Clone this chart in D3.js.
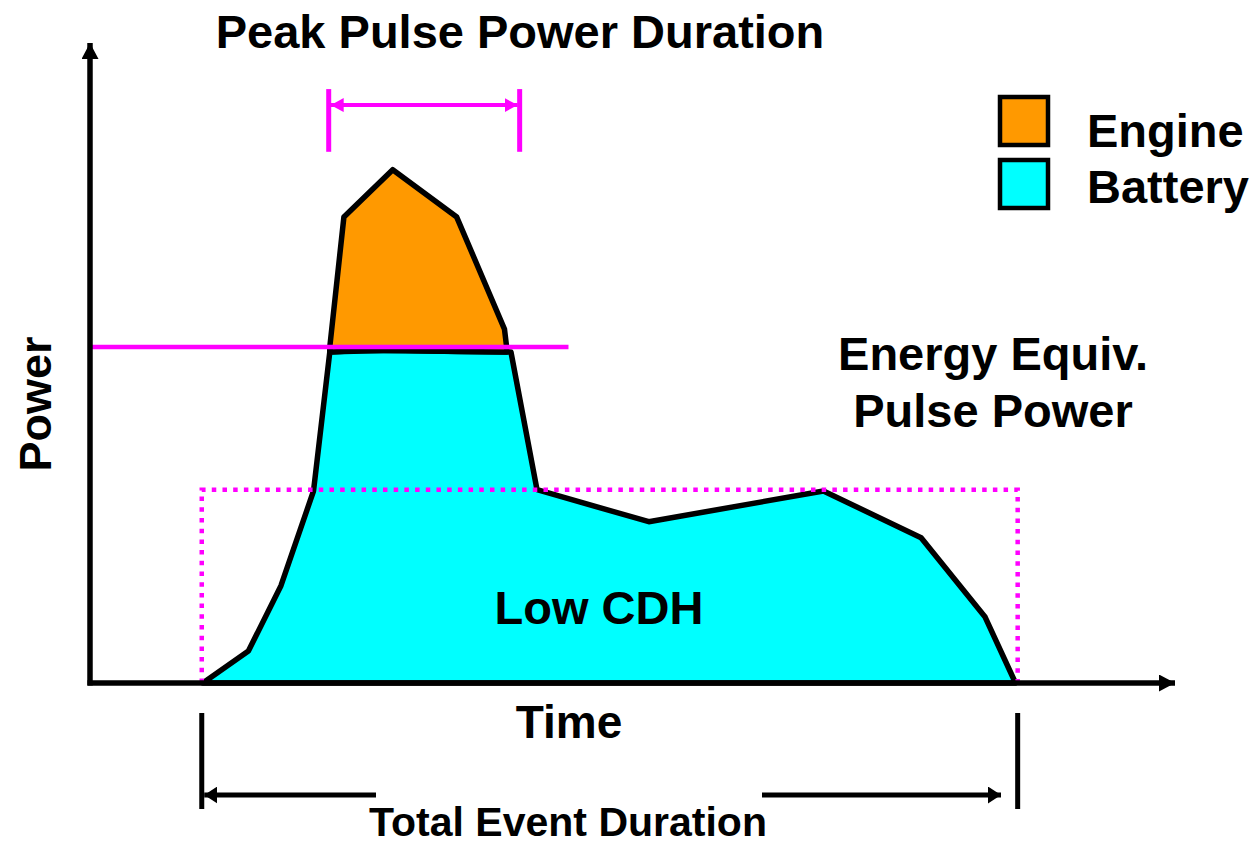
<!DOCTYPE html>
<html>
<head>
<meta charset="utf-8">
<script src="https://cdn.jsdelivr.net/npm/d3@7"></script>
<style>
  body { margin: 0; background: #fff; }
  text { font-family: "Liberation Sans", Arial, sans-serif; font-weight: bold; fill: #000; }
</style>
</head>
<body>
<svg id="chart"></svg>
<script>
// battery (low CDH) profile, time and power in arbitrary units
const batteryTime  = [10.4, 14.6, 17.6, 20.6, 22.1, 25.2, 38.8, 41.2, 51.5, 67.6, 76.6, 82.5, 85.3];
const batteryPower = [0,    5.0,  15.2, 30.0, 51.7, 52.0, 51.7, 30.2, 25.2, 30.0, 22.7, 10.3, 0];

// engine peak sits on top of the battery limit
const engineTime  = [22.1, 23.4, 27.9, 33.8, 38.2, 38.4];
const engineTop   = [52.5, 72.8, 80.2, 72.8, 55.3, 52.5];
const engineBase  = [51.7, 51.8, 52.0, 51.8, 51.7, 51.7];

const batteryLimit = 52.5;          // magenta line
const limitEnd = 44.1;
const pulseStart = 10.3, pulseEnd = 85.5, pulseLevel = 30.2;   // energy equiv. box
const peakStart = 22.0, peakEnd = 39.6;

const legendItems = ["Engine", "Battery"];
const legendColors = ["#ff9900", "#00ffff"];

const width = 1253, height = 847;
const svg = d3.select("#chart").attr("width", width).attr("height", height);

const x = d3.scaleLinear().domain([0, 100]).range([90, 1175]);
const y = d3.scaleLinear().domain([0, 100]).range([683, 43]);

const defs = svg.append("defs");
function marker(id, color, len, half) {
    defs.append("marker")
        .attr("id", id)
        .attr("markerUnits", "userSpaceOnUse")
        .attr("viewBox", `0 ${-half} ${len} ${half * 2}`)
        .attr("refX", len).attr("refY", 0)
        .attr("markerWidth", len).attr("markerHeight", half * 2)
        .attr("orient", "auto-start-reverse")
        .append("path")
        .attr("d", `M0,${-half}L${len},0L0,${half}Z`)
        .attr("fill", color);
}
marker("axisHead", "#000", 16, 8.5);
marker("blackHead", "#000", 13, 8.5);
marker("pinkHead", "#ff00ff", 13, 7);

const battery = batteryTime.map((t, i) => ({ t, p: batteryPower[i] }));
const engine = engineTime.map((t, i) => ({ t, top: engineTop[i], base: engineBase[i] }));

// battery area
svg.append("path")
    .datum(battery)
    .attr("d", d3.area().x(d => x(d.t)).y0(y(0)).y1(d => y(d.p)))
    .attr("fill", "#00ffff")
    .attr("stroke", "#000")
    .attr("stroke-width", 5.5)
    .attr("stroke-linejoin", "round");

// engine area
svg.append("path")
    .datum(engine)
    .attr("d", d3.area().x(d => x(d.t)).y0(d => y(d.base)).y1(d => y(d.top)))
    .attr("fill", "#ff9900")
    .attr("stroke", "#000")
    .attr("stroke-width", 5.5)
    .attr("stroke-linejoin", "round");

// energy-equivalent pulse power box (dotted)
svg.append("path")
    .attr("d", `M${x(pulseStart)},${y(0)}V${y(pulseLevel)}H${x(pulseEnd)}V${y(0)}`)
    .attr("fill", "none")
    .attr("stroke", "#ff00ff")
    .attr("stroke-width", 4.5)
    .attr("stroke-dasharray", "4.5,6.2");

// battery limit line
svg.append("line")
    .attr("x1", x(0)).attr("x2", x(limitEnd))
    .attr("y1", y(batteryLimit)).attr("y2", y(batteryLimit))
    .attr("stroke", "#ff00ff").attr("stroke-width", 4.5);

// axes
svg.append("line")
    .attr("x1", x(0)).attr("y1", y(0) + 2.5).attr("x2", x(0)).attr("y2", y(100))
    .attr("stroke", "#000").attr("stroke-width", 5.5)
    .attr("marker-end", "url(#axisHead)");
svg.append("line")
    .attr("x1", x(0) - 2.5).attr("y1", y(0)).attr("x2", x(100)).attr("y2", y(0))
    .attr("stroke", "#000").attr("stroke-width", 5.5)
    .attr("marker-end", "url(#axisHead)");

// peak pulse duration bracket
[peakStart, peakEnd].forEach(t => {
    svg.append("line")
        .attr("x1", x(t)).attr("x2", x(t))
        .attr("y1", y(92.8)).attr("y2", y(83.0))
        .attr("stroke", "#ff00ff").attr("stroke-width", 5);
});
svg.append("line")
    .attr("x1", x(peakStart) + 2).attr("x2", x(peakEnd) - 2)
    .attr("y1", y(90.3)).attr("y2", y(90.3))
    .attr("stroke", "#ff00ff").attr("stroke-width", 4)
    .attr("marker-start", "url(#pinkHead)")
    .attr("marker-end", "url(#pinkHead)");

// total event duration bracket
[pulseStart, pulseEnd].forEach(t => {
    svg.append("line")
        .attr("x1", x(t)).attr("x2", x(t))
        .attr("y1", 713).attr("y2", 809)
        .attr("stroke", "#000").attr("stroke-width", 5);
});
svg.append("line")
    .attr("x1", 376).attr("x2", x(pulseStart) + 2.5)
    .attr("y1", 795).attr("y2", 795)
    .attr("stroke", "#000").attr("stroke-width", 5)
    .attr("marker-end", "url(#blackHead)");
svg.append("line")
    .attr("x1", 762).attr("x2", 1001)
    .attr("y1", 795).attr("y2", 795)
    .attr("stroke", "#000").attr("stroke-width", 5)
    .attr("marker-end", "url(#blackHead)");

// legend
const legend = svg.append("g").attr("transform", "translate(1000, 97)");
legendItems.forEach((name, i) => {
    legend.append("rect")
        .attr("x", 0).attr("y", i * 63)
        .attr("width", 48).attr("height", 48)
        .attr("fill", legendColors[i])
        .attr("stroke", "#000").attr("stroke-width", 4.5);
    legend.append("text")
        .attr("x", 87).attr("y", i * 56 + 50)
        .attr("font-size", 47)
        .text(name);
});

// labels
function label(txt, px, py, size, rotate) {
    const t = svg.append("text")
        .attr("text-anchor", "middle")
        .attr("font-size", size)
        .text(txt);
    if (rotate) t.attr("transform", `translate(${px},${py}) rotate(-90)`);
    else t.attr("x", px).attr("y", py);
}
label("Peak Pulse Power Duration", 520, 48, 47);
label("Energy Equiv.", 993, 370, 47);
label("Pulse Power", 993, 427, 47);
label("Low CDH", 599, 624, 47);
label("Time", 569, 738, 46);
label("Total Event Duration", 568, 836, 41);
label("Power", 51, 404, 45, true);
</script>
</body>
</html>
